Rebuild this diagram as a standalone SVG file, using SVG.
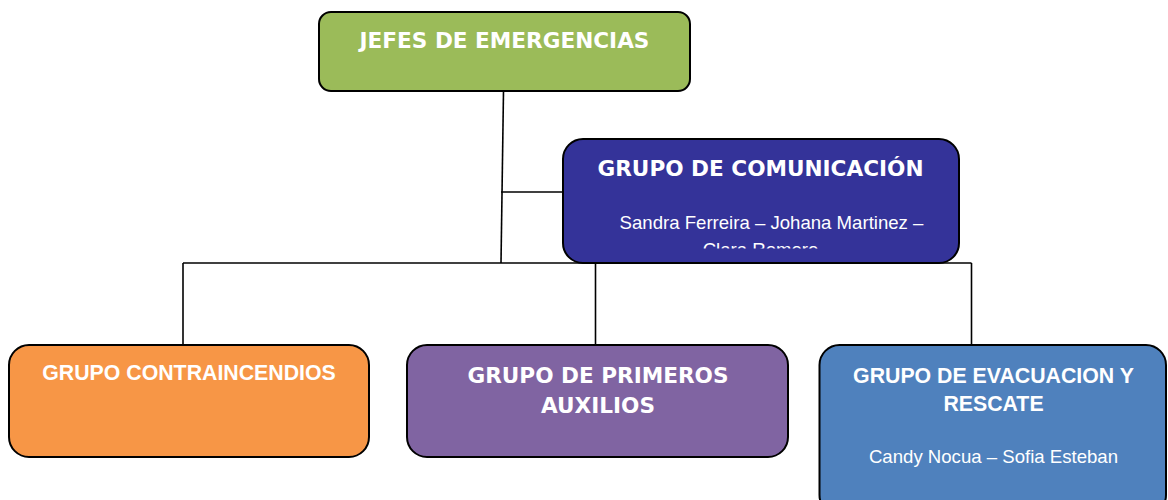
<svg xmlns="http://www.w3.org/2000/svg" width="1168" height="500" viewBox="0 0 1168 500">
<style>
.box{stroke:#000;stroke-width:2}
.line{stroke:#000;stroke-width:1.6;fill:none}
.tv{font-family:"DejaVu Sans",Verdana,sans-serif;font-weight:bold;font-size:21.6px;fill:#fff;text-anchor:middle}
.ta{font-family:"Liberation Sans",Arial,sans-serif;font-weight:bold;font-size:21.3px;fill:#fff;text-anchor:middle}
.tn{font-family:"Liberation Sans",Arial,sans-serif;font-size:18.6px;fill:#fff;text-anchor:middle}
</style>
<defs>
<clipPath id="cc"><rect x="563" y="139" width="396" height="109.5"/></clipPath>
</defs>
<rect width="1168" height="500" fill="#fff"/>
<g id="connectors">
<path class="line" d="M503.5 91 L501 263"/>
<path class="line" d="M501 192 L564 192"/>
<path class="line" d="M183 263 L971.5 263"/>
<path class="line" d="M183 263 L183 346"/>
<path class="line" d="M595.5 263 L595.5 346"/>
<path class="line" d="M971.5 263 L971.5 346"/>
</g>
<g id="jefes">
<rect class="box" x="319" y="12" width="371" height="79" rx="12" fill="#9BBB59"/>
<text class="tv" x="504.5" y="48">JEFES DE EMERGENCIAS</text>
</g>
<g id="comunicacion">
<rect class="box" x="563" y="139" width="396" height="124" rx="20" fill="#343399"/>
<text class="tv" x="760.5" y="176">GRUPO DE COMUNICACIÓN</text>
<g clip-path="url(#cc)">
<text class="tn" x="771.5" y="229">Sandra Ferreira – Johana Martinez –</text>
<text class="tn" x="760.5" y="256">Clara Romero</text>
</g>
</g>
<g id="contraincendios">
<rect class="box" x="9" y="345" width="360" height="112" rx="20" fill="#F79646"/>
<text class="ta" x="189" y="380">GRUPO CONTRAINCENDIOS</text>
</g>
<g id="primeros-auxilios">
<rect class="box" x="407" y="345" width="381" height="112" rx="20" fill="#8064A2"/>
<text class="tv" x="598" y="383">GRUPO DE PRIMEROS</text>
<text class="tv" x="598" y="413">AUXILIOS</text>
</g>
<g id="evacuacion">
<rect class="box" x="819.5" y="345" width="346.5" height="170" rx="20" fill="#4F81BD"/>
<text class="ta" x="993.5" y="383">GRUPO DE EVACUACION Y</text>
<text class="ta" x="993.5" y="411">RESCATE</text>
<text class="tn" x="993.5" y="463">Candy Nocua – Sofia Esteban</text>
</g>
</svg>
